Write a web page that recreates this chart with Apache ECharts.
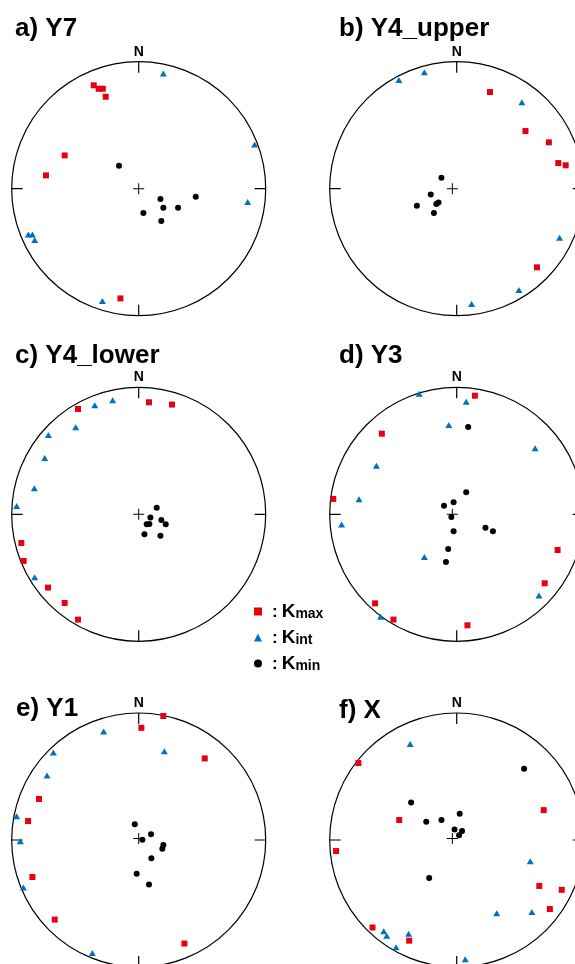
<!DOCTYPE html>
<html>
<head>
<meta charset="utf-8">
<script src="https://cdn.jsdelivr.net/npm/echarts@6/dist/echarts.min.js"></script>
<style>
  html, body { margin: 0; padding: 0; background: #fff; }
  #chart { width: 575px; height: 964px; }
</style>
</head>
<body>
<div id="chart"></div>
<script>
// AMS principal axes on lower-hemisphere equal-area nets.
// Each point is [east, north], in percent of the primitive circle radius.
const siteTitles = ['a) Y7', 'b) Y4_upper', 'c) Y4_lower', 'd) Y3', 'e) Y1', 'f) X'];

// a) Y7
const kmaxY7 = [[-35.4, 81.4], [-31.5, 78.7], [-28.3, 78.7], [-26.0, 72.4], [-58.3, 26.2], [-73.0, 10.5], [-14.4, -86.4]];
const kintY7 = [[19.4, 90.8], [91.3, 34.9], [85.8, -10.5], [-86.9, -36.0], [-83.7, -36.0], [-81.9, -40.4], [-28.6, -88.5]];
const kminY7 = [[-15.5, 18.1], [17.1, -8.1], [19.4, -15.0], [31.0, -15.0], [44.9, -6.3], [3.7, -19.2], [17.8, -25.5]];

// b) Y4_upper
const kmaxY4u = [[30.7, 76.1], [59.6, 45.4], [78.7, 36.5], [86.4, 20.2], [92.4, 18.4], [69.0, -61.9]];
const kintY4u = [[-43.6, 85.6], [-22.8, 91.6], [56.7, 68.0], [87.4, -38.6], [54.3, -79.8], [15.7, -90.8]];
const kminY4u = [[-8.9, 8.7], [-17.6, -4.5], [-28.9, -13.4], [-13.1, -12.1], [-11.3, -10.8], [-15.0, -19.2]];

// c) Y4_lower
const kmaxY4l = [[8.1, 88.2], [26.2, 86.4], [-47.8, 82.9], [-92.4, -22.6], [-90.6, -36.7], [-71.4, -57.7], [-58.3, -69.8], [-47.8, -82.9]];
const kintY4l = [[-20.5, 89.8], [-34.6, 85.8], [-49.6, 68.5], [-71.1, 62.5], [-74.0, 44.4], [-82.2, 20.5], [-96.1, 6.6], [-81.9, -49.6]];
const kminY4l = [[14.2, 5.2], [9.2, -2.6], [17.8, -4.5], [21.3, -7.9], [6.3, -7.9], [8.4, -7.6], [4.5, -15.7], [17.1, -16.8]];

// d) Y3
const kmaxY3 = [[18.4, 93.4], [-57.5, 63.5], [-97.1, 12.1], [85.8, -28.1], [75.3, -54.3], [-63.0, -70.1], [-48.0, -82.9], [12.3, -87.4]];
const kintY3 = [[-27.0, 95.0], [11.3, 88.7], [-2.9, 70.3], [67.5, 52.0], [-61.9, 38.3], [-76.1, 11.8], [-90.3, -8.1], [-22.8, -33.6], [70.6, -64.0], [-58.5, -80.6]];
const kminY3 = [[12.9, 68.8], [11.3, 17.3], [1.0, 9.4], [-6.8, 6.8], [-0.8, -2.1], [1.0, -13.4], [27.0, -10.5], [33.1, -13.4], [-3.4, -27.3], [-5.2, -37.5]];

// e) Y1
const kmaxY1 = [[19.4, 97.6], [2.1, 88.2], [52.0, 63.8], [-78.5, 31.5], [-87.1, 13.9], [-83.7, -30.7], [-66.1, -64.6], [36.0, -83.7]];
const kintY1 = [[-27.6, 85.3], [-67.2, 68.5], [20.2, 69.6], [-72.2, 50.1], [-96.1, 17.8], [-93.2, -2.1], [-90.8, -39.1], [-36.5, -91.3]];
const kminY1 = [[-3.1, 11.3], [9.7, 3.4], [2.9, -1.0], [19.4, -5.2], [18.6, -8.1], [10.0, -15.7], [-1.6, -28.1], [8.1, -36.7]];

// f) X
const kmaxX = [[-76.6, 60.1], [-43.3, 14.7], [74.5, 22.6], [-94.8, -10.0], [70.9, -37.8], [89.2, -40.9], [79.5, -56.2], [-65.1, -70.9], [-35.2, -81.4]];
const kintX = [[-34.4, 75.3], [63.5, -18.1], [36.2, -59.6], [64.8, -58.5], [-55.9, -74.0], [-53.5, -77.4], [-35.7, -75.9], [-45.9, -86.6], [10.5, -96.3]];
const kminX = [[58.5, 55.6], [-33.6, 28.6], [-21.3, 13.4], [-8.9, 14.7], [6.0, 19.7], [1.8, 7.1], [7.9, 6.0], [5.5, 2.6], [-18.9, -31.5]];

const sites = [
  { kmax: kmaxY7, kint: kintY7, kmin: kminY7 },
  { kmax: kmaxY4u, kint: kintY4u, kmin: kminY4u },
  { kmax: kmaxY4l, kint: kintY4l, kmin: kminY4l },
  { kmax: kmaxY3, kint: kintY3, kmin: kminY3 },
  { kmax: kmaxY1, kint: kintY1, kmin: kminY1 },
  { kmax: kmaxX, kint: kintX, kmin: kminX }
];

// ---- layout ----
const FONT = "'Liberation Sans', Arial, Helvetica, sans-serif";
const NET_R = 127;
const COL_X = [138.7, 456.7];
const ROW_Y = [188.7, 514.3, 840];
const TITLE_POS = [[15, 16], [339, 16], [15, 343], [339, 343], [16, 696], [339, 698]];
const RED = '#E60012', BLUE = '#0070C0', BLACK = '#000000';
const CROSS = 'path://M0,5H11V6H0Z M5,0H6V11H5Z';

const titles = [], polars = [], angleAxes = [], radiusAxes = [];
const grids = [], xAxes = [], yAxes = [], series = [];

sites.forEach((s, i) => {
  const cx = COL_X[i % 2], cy = ROW_Y[Math.floor(i / 2)];

  titles.push({
    text: siteTitles[i], left: TITLE_POS[i][0], top: TITLE_POS[i][1], padding: 0,
    textStyle: { fontFamily: FONT, fontSize: 26, fontWeight: 'bold', color: '#000' }
  });

  // primitive circle, cardinal ticks and north label
  polars.push({ center: [cx, cy], radius: NET_R });
  angleAxes.push({
    polarIndex: i, type: 'value', min: 0, max: 360, interval: 90,
    startAngle: 90, clockwise: true,
    axisLine: { show: true, lineStyle: { color: '#000', width: 1.2 } },
    axisTick: { show: true, inside: true, length: 11, lineStyle: { color: '#000', width: 1.2 } },
    axisLabel: {
      show: true, margin: 3, color: '#000', fontFamily: FONT, fontSize: 14, fontWeight: 'bold',
      formatter: v => (v === 0 ? 'N' : '')
    },
    splitLine: { show: false }
  });
  radiusAxes.push({
    polarIndex: i, type: 'value', min: 0, max: 100,
    axisLine: { show: false }, axisTick: { show: false }, axisLabel: { show: false }, splitLine: { show: false }
  });

  // projected plane of the net
  grids.push({ left: cx - NET_R, top: cy - NET_R, width: 2 * NET_R, height: 2 * NET_R });
  xAxes.push({ gridIndex: i, type: 'value', min: -100, max: 100, show: false });
  yAxes.push({ gridIndex: i, type: 'value', min: -100, max: 100, show: false });

  series.push({
    type: 'scatter', xAxisIndex: i, yAxisIndex: i, silent: true,
    symbol: CROSS, symbolSize: 11, itemStyle: { color: BLACK, opacity: 1 }, data: [[0, 0]]
  });
  series.push({
    name: 'Kmax', type: 'scatter', xAxisIndex: i, yAxisIndex: i,
    symbol: 'rect', symbolSize: 6, itemStyle: { color: RED, opacity: 1 }, data: s.kmax
  });
  series.push({
    name: 'Kint', type: 'scatter', xAxisIndex: i, yAxisIndex: i,
    symbol: 'triangle', symbolSize: [7, 6], itemStyle: { color: BLUE, opacity: 1 }, data: s.kint
  });
  series.push({
    name: 'Kmin', type: 'scatter', xAxisIndex: i, yAxisIndex: i,
    symbol: 'circle', symbolSize: 6, itemStyle: { color: BLACK, opacity: 1 }, data: s.kmin
  });
});

const chart = echarts.init(document.getElementById('chart'), null, { renderer: 'canvas' });
chart.setOption({
  animation: false,
  backgroundColor: '#fff',
  title: titles,
  polar: polars,
  angleAxis: angleAxes,
  radiusAxis: radiusAxes,
  grid: grids,
  xAxis: xAxes,
  yAxis: yAxes,
  legend: {
    orient: 'vertical', left: 254, top: 602, padding: 0,
    itemWidth: 8, itemHeight: 8, itemGap: 7,
    selectedMode: false,
    data: [
      { name: 'Kmax', icon: 'rect', itemStyle: { color: RED, opacity: 1 } },
      { name: 'Kint', icon: 'triangle', itemStyle: { color: BLUE, opacity: 1 } },
      { name: 'Kmin', icon: 'circle', itemStyle: { color: BLACK, opacity: 1 } }
    ],
    formatter: n => '{c|:}{k|K}{s|' + n.slice(1) + '}',
    textStyle: {
      fontFamily: FONT, color: '#000',
      rich: {
        c: { fontFamily: FONT, fontSize: 17, fontWeight: 'bold', lineHeight: 19, verticalAlign: 'bottom', padding: [0, 4, 0, 5] },
        k: { fontFamily: FONT, fontSize: 19, fontWeight: 'bold', lineHeight: 19, verticalAlign: 'bottom' },
        s: { fontFamily: FONT, fontSize: 14, fontWeight: 'bold', lineHeight: 15, verticalAlign: 'bottom' }
      }
    }
  },
  series: series
});
</script>
</body>
</html>
